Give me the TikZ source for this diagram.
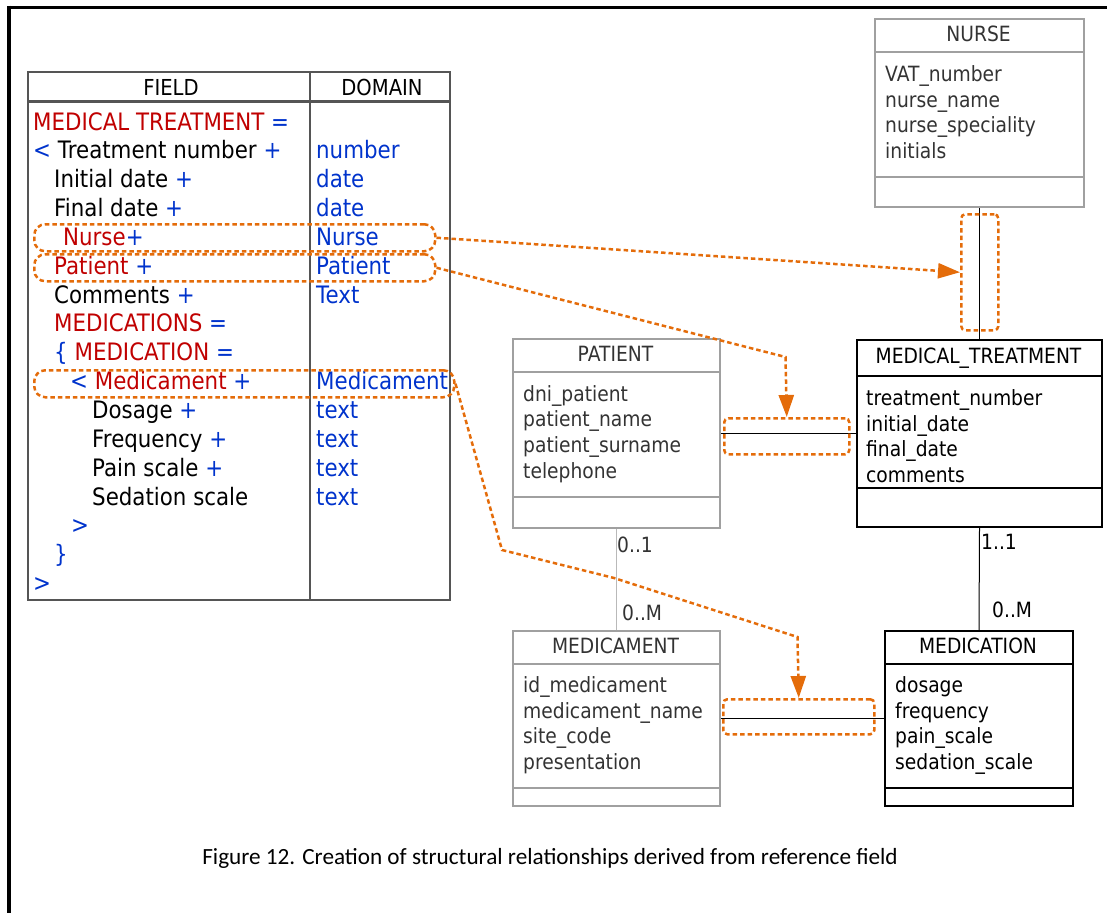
\documentclass[tikz,border=0pt]{standalone}
\usepackage{fontspec}
\setmainfont{DejaVu Sans}[FakeStretch=0.89]
\newfontfamily\capfont{Carlito}
\usetikzlibrary{arrows.meta}
\definecolor{tred}{RGB}{192,0,0}
\definecolor{tblue}{RGB}{0,51,204}
\definecolor{hlorange}{RGB}{228,108,10}
\definecolor{boxgray}{RGB}{160,160,160}
\definecolor{txtgray}{RGB}{51,51,51}
\definecolor{tabline}{RGB}{85,85,85}
\definecolor{lightline}{RGB}{185,185,185}
\newcommand{\rd}[1]{\textcolor{tred}{#1}}
\newcommand{\bl}[1]{\textcolor{tblue}{#1}}
\begin{document}
\begin{tikzpicture}[x=1pt,y=-1pt,
  tabtxt/.style={anchor=base west, inner sep=0pt, font=\fontsize{24}{29}\selectfont},
  domtxt/.style={tabtxt, text=tblue},
  headtxt/.style={anchor=base, inner sep=0pt, font=\fontsize{22}{26}\selectfont},
  ertxt/.style={anchor=base west, inner sep=0pt, font=\fontsize{21}{26}\selectfont},
  ertitle/.style={anchor=base, inner sep=0pt, font=\fontsize{21}{26}\selectfont},
  entg/.style={draw=boxgray, line width=2pt, anchor=north west, inner sep=0pt},
  entb/.style={draw=black, line width=2pt, anchor=north west, inner sep=0pt},
  divg/.style={draw=boxgray, line width=2pt},
  divb/.style={draw=black, line width=2pt},
  hlbox/.style={draw=hlorange, line width=2.5pt, dash pattern=on 4.5pt off 3pt, rounded corners=11pt, anchor=north west, inner sep=0pt},
  hlrel/.style={draw=hlorange, line width=2.5pt, dash pattern=on 4.5pt off 3pt, rounded corners=4pt, anchor=north west, inner sep=0pt},
  hlarrow/.style={draw=hlorange, line width=2.5pt, dash pattern=on 4.5pt off 3pt, -{Triangle[length=22pt,width=15pt]}},
  relline/.style={draw=black, line width=1pt},
  rellineg/.style={draw=lightline, line width=1.5pt}
]
\useasboundingbox (0,0) rectangle (1107,913);
% page frame
\draw[line width=4pt] (9.3,5.5) -- (9.3,913);
\draw[line width=2.5pt] (7.3,7.3) -- (1107,7.3);

% ===== table =====
\node[draw=tabline, line width=1.5pt, anchor=north west, minimum width=422pt, minimum height=528pt, inner sep=0pt] (tab) at (27,71) {};
\draw[tabline, line width=2.5pt] (27,101.5) -- (449,101.5);
\draw[tabline, line width=1.5pt] (310,71) -- (310,599);
\node[headtxt] (hfield) at (171,95) {FIELD};
\node[headtxt] (hdomain) at (382,95) {DOMAIN};

\node[tabtxt] (r0) at (33,130) {\rd{MEDICAL TREATMENT} \bl{=}};
\node[tabtxt] (r1) at (33,158.85) {\bl{<} Treatment number \bl{+}};
\node[tabtxt] (r2) at (54,187.7) {Initial date \bl{+}};
\node[tabtxt] (r3) at (54,216.55) {Final date \bl{+}};
\node[tabtxt] (r4) at (63,245.4) {\rd{Nurse}\bl{+}};
\node[tabtxt] (r5) at (54,274.25) {\rd{Patient} \bl{+}};
\node[tabtxt] (r6) at (54,303.1) {Comments \bl{+}};
\node[tabtxt] (r7) at (54,331.95) {\rd{MEDICATIONS} \bl{=}};
\node[tabtxt] (r8) at (54,360.8) {\bl{\{} \rd{MEDICATION} \bl{=}};
\node[tabtxt] (r9) at (70,389.65) {\bl{<} \rd{Medicament} \bl{+}};
\node[tabtxt] (r10) at (92,418.5) {Dosage \bl{+}};
\node[tabtxt] (r11) at (92,447.35) {Frequency \bl{+}};
\node[tabtxt] (r12) at (92,476.2) {Pain scale \bl{+}};
\node[tabtxt] (r13) at (92,505.05) {Sedation scale};
\node[tabtxt] (r14) at (71,533.9) {\bl{>}};
\node[tabtxt] (r15) at (54,562.75) {\bl{\}}};
\node[tabtxt] (r16) at (33,591.6) {\bl{>}};

\node[domtxt] (d1) at (316,158.85) {number};
\node[domtxt] (d2) at (316,187.7) {date};
\node[domtxt] (d3) at (316,216.55) {date};
\node[domtxt] (d4) at (316,245.4) {Nurse};
\node[domtxt] (d5) at (316,274.25) {Patient};
\node[domtxt] (d6) at (316,303.1) {Text};
\node[domtxt] (d9) at (316,389.65) {Medicament};
\node[domtxt] (d10) at (316,418.5) {text};
\node[domtxt] (d11) at (316,447.35) {text};
\node[domtxt] (d12) at (316,476.2) {text};
\node[domtxt] (d13) at (316,505.05) {text};

% highlighted rows
\node[hlbox, minimum width=401pt, minimum height=27pt] (hlNurse) at (33,223) {};
\node[hlbox, minimum width=401pt, minimum height=27pt] (hlPatient) at (33,253) {};
\node[hlbox, minimum width=420pt, minimum height=27pt] (hlMedicament) at (33,369) {};

% ===== entities =====
% NURSE
\node[entg, minimum width=209pt, minimum height=188pt] (nurse) at (874,18) {};
\draw[divg] (874,52) -- (1083,52);
\draw[divg] (874,177) -- (1083,177);
\node[ertitle, text=txtgray] (nurseT) at (978.5,41) {NURSE};
\node[ertxt, text=txtgray] (nurseA1) at (885,81.5) {VAT\_number};
\node[ertxt, text=txtgray] (nurseA2) at (885,107.2) {nurse\_name};
\node[ertxt, text=txtgray] (nurseA3) at (885,132.9) {nurse\_speciality};
\node[ertxt, text=txtgray] (nurseA4) at (885,158.6) {initials};

% MEDICAL_TREATMENT
\node[entb, minimum width=245pt, minimum height=187pt] (mt) at (856,339) {};
\draw[divb] (856,376) -- (1101,376);
\draw[divb] (856,488) -- (1101,488);
\node[ertitle] (mtT) at (978.5,363.5) {MEDICAL\_TREATMENT};
\node[ertxt] (mtA1) at (866,405.5) {treatment\_number};
\node[ertxt] (mtA2) at (866,431.2) {initial\_date};
\node[ertxt] (mtA3) at (866,456.9) {final\_date};
\node[ertxt] (mtA4) at (866,482.6) {comments};

% PATIENT
\node[entg, minimum width=207pt, minimum height=189pt] (patient) at (512,338) {};
\draw[divg] (512,372) -- (719,372);
\draw[divg] (512,497) -- (719,497);
\node[ertitle, text=txtgray] (patientT) at (615.5,361) {PATIENT};
\node[ertxt, text=txtgray] (patientA1) at (523,401) {dni\_patient};
\node[ertxt, text=txtgray] (patientA2) at (523,426.7) {patient\_name};
\node[ertxt, text=txtgray] (patientA3) at (523,452.4) {patient\_surname};
\node[ertxt, text=txtgray] (patientA4) at (523,478.1) {telephone};

% MEDICAMENT
\node[entg, minimum width=207pt, minimum height=175pt] (medicament) at (512,630) {};
\draw[divg] (512,663.5) -- (719,663.5);
\draw[divg] (512,788) -- (719,788);
\node[ertitle, text=txtgray] (medicamentT) at (615.5,653.5) {MEDICAMENT};
\node[ertxt, text=txtgray] (medicamentA1) at (523,692.5) {id\_medicament};
\node[ertxt, text=txtgray] (medicamentA2) at (523,718.2) {medicament\_name};
\node[ertxt, text=txtgray] (medicamentA3) at (523,743.9) {site\_code};
\node[ertxt, text=txtgray] (medicamentA4) at (523,769.6) {presentation};

% MEDICATION
\node[entb, minimum width=188pt, minimum height=175pt] (medication) at (884,630) {};
\draw[divb] (884,664) -- (1072,664);
\draw[divb] (884,788) -- (1072,788);
\node[ertitle] (medicationT) at (978,653.5) {MEDICATION};
\node[ertxt] (medicationA1) at (895,692.5) {dosage};
\node[ertxt] (medicationA2) at (895,718.2) {frequency};
\node[ertxt] (medicationA3) at (895,743.9) {pain\_scale};
\node[ertxt] (medicationA4) at (895,769.6) {sedation\_scale};

% ===== relationships =====
\draw[relline] (nurse.south) -- (mt.north);
\draw[relline] (patient.east) -- (mt.west);
\draw[rellineg] (patient.south) -- (medicament.north);
\draw[relline] (mt.south) -- (medication.north);
\draw[relline] (medicament.east) -- (medication.west);

\node[ertxt, text=txtgray] (card01) at (617,552.5) {0..1};
\node[ertxt, text=txtgray] (card0M) at (622,620.5) {0..M};
\node[ertxt] (card11) at (981,549.5) {1..1};
\node[ertxt] (card0M2) at (992,617.5) {0..M};

% highlighted relationships
\node[hlrel, minimum width=37pt, minimum height=116pt] (hlNurseRel) at (960,213) {};
\node[hlrel, minimum width=125pt, minimum height=36pt] (hlPatRel) at (723,417) {};
\node[hlrel, minimum width=151pt, minimum height=35pt] (hlMedRel) at (722,698) {};

% arrows
\coordinate (bendP) at (785.5,357);
\coordinate (bendM1) at (502,550);
\coordinate (bendM2) at (614,578);
\coordinate (bendM3) at (797.5,637);
\draw[hlarrow] (hlNurse.east) -- (hlNurseRel.west);
\draw[hlarrow] (hlPatient.east) -- (bendP) -- (hlPatRel.north);
\draw[hlarrow] (hlMedicament.east) -- (bendM1) -- (bendM2) -- (bendM3) -- (hlMedRel.north);

% caption
\node[anchor=base, inner sep=0pt, font=\capfont\fontsize{23.2}{27}\selectfont] (caption) at (550,864) {Figure 12. Creation of structural relationships derived from reference field};
\end{tikzpicture}
\end{document}
